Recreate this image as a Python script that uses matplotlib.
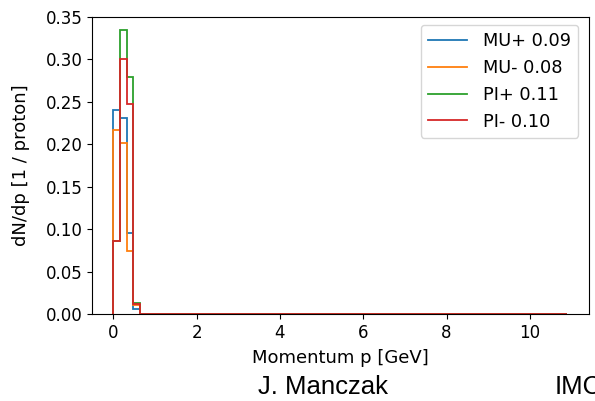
import numpy as np
import matplotlib
matplotlib.use("Agg")
import matplotlib.pyplot as plt
from matplotlib.lines import Line2D

# Histogram bin edges (GeV): 68 bins of 0.16 GeV
n_bins = 68
bin_width = 0.16

mu_plus = [0.240, 0.2315, 0.0962, 0.006] + [0.0] * 64
mu_minus = [0.217, 0.202, 0.0747, 0.011] + [0.0] * 64
pi_plus = [0.0868, 0.334, 0.279, 0.0139] + [0.0] * 64
pi_minus = [0.0868, 0.3006, 0.2476, 0.0124] + [0.0] * 64

labels = ["MU+ 0.09", "MU- 0.08", "PI+ 0.11", "PI- 0.10"]
colors = ["#1f77b4", "#ff7f0e", "#2ca02c", "#d62728"]
xticks = [0, 2, 4, 6, 8, 10]
yticks = [0.00, 0.05, 0.10, 0.15, 0.20, 0.25, 0.30, 0.35]

edges = np.arange(n_bins + 1) * bin_width

fig = plt.figure(figsize=(5.95, 4.01), dpi=100)
ax = fig.add_axes([0.1546, 0.216, 0.8354, 0.742])

for vals, lab, col in zip([mu_plus, mu_minus, pi_plus, pi_minus], labels, colors):
    ax.stairs(vals, edges, color=col, linewidth=1.3, label=lab)

ax.set_xlim(-0.51, 11.42)
ax.set_ylim(0, 0.35)
ax.set_xticks(xticks)
ax.set_yticks(yticks)
ax.set_yticklabels([f"{v:.2f}" for v in yticks])
ax.tick_params(labelsize=12)
ax.set_xlabel("Momentum p [GeV]", fontsize=13, labelpad=5)
ax.set_ylabel("dN/dp [1 / proton]", fontsize=13, labelpad=11)

handles = [Line2D([], [], color=c, linewidth=1.3) for c in colors]
ax.legend(handles, labels, loc="upper right", fontsize=12.8, handlelength=2.2,
          handletextpad=0.9, bbox_to_anchor=(0.978, 0.973), borderaxespad=0)

fig.text(258 / 595, 1 - 394 / 401, "J. Manczak", fontsize=18.5,
         family="Liberation Sans", ha="left", va="baseline")
fig.text(555 / 595, 1 - 394 / 401, "IMC", fontsize=18.5,
         family="Liberation Sans", ha="left", va="baseline")

fig.savefig("out.png", dpi=100)
